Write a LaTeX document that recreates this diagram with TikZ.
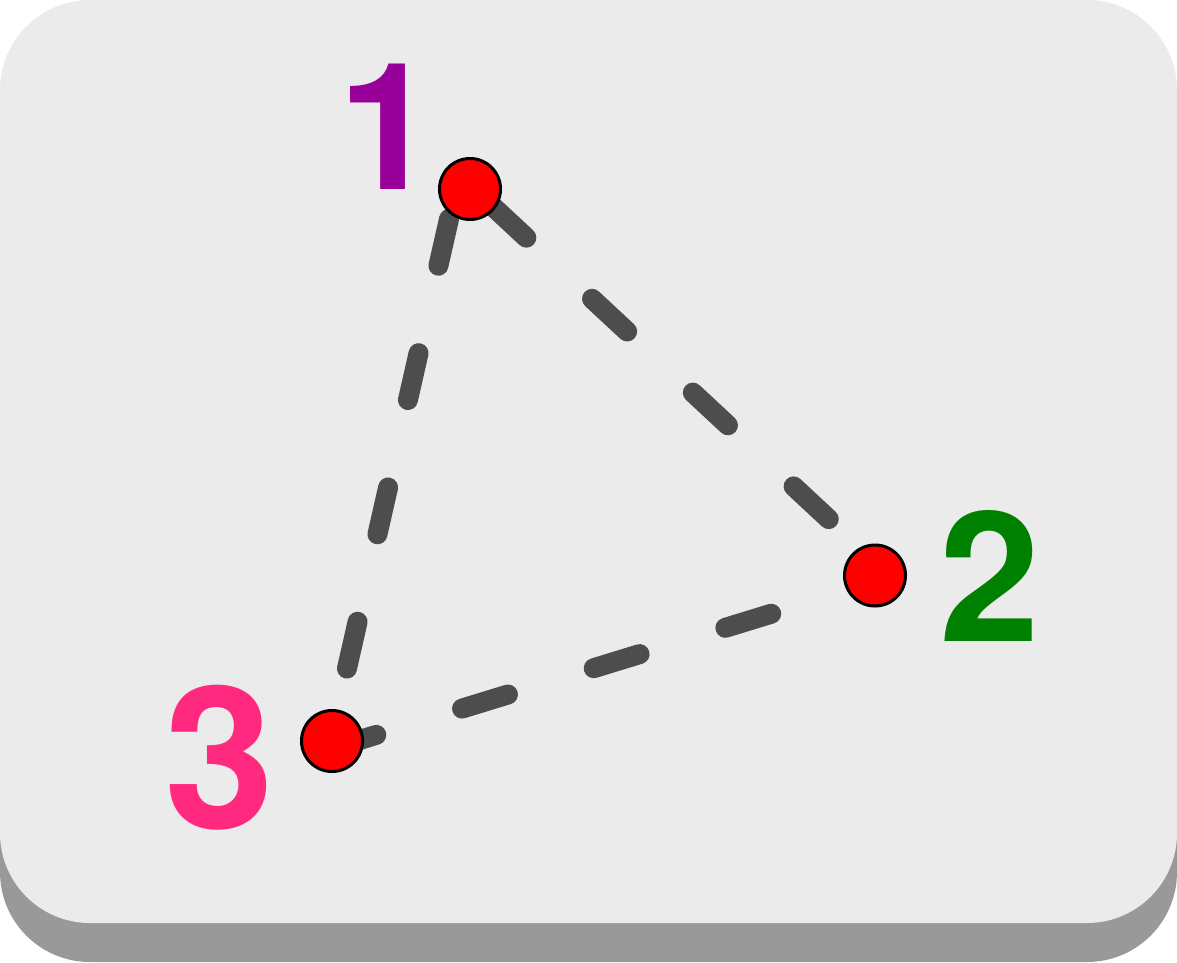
\documentclass[tikz,border=0pt]{standalone}
\usepackage{fontspec}
\setmainfont{TeX Gyre Heros}
\definecolor{facec}{HTML}{EBEBEB}
\definecolor{shadowc}{HTML}{999999}
\definecolor{linec}{HTML}{4D4D4D}
\definecolor{onec}{HTML}{990099}
\definecolor{twoc}{HTML}{008000}
\definecolor{threec}{HTML}{FF2A80}
\pgfdeclarelayer{back}
\pgfdeclarelayer{lines}
\pgfsetlayers{back,lines,main}
\begin{document}
\begin{tikzpicture}[x=1pt,y=-1pt,
  dot/.style={circle,draw=black,line width=3pt,fill=red,minimum size=61pt,inner sep=0pt},
  link/.style={linec,line width=20pt,line cap=round,dash pattern=on 48pt off 89.7pt},
  numlab/.style={inner sep=0pt,font=\bfseries\fontsize{#1}{#1}\selectfont}]
\useasboundingbox (0,0) rectangle (1177,962);
\begin{pgfonlayer}{back}
\fill[shadowc,rounded corners=90pt] (0,40) rectangle (1177,962);
\fill[facec,rounded corners=90pt] (0,0) rectangle (1177,923);
\end{pgfonlayer}
\node[dot] (n1) at (470,189) {};
\node[dot] (n2) at (875,575.5) {};
\node[dot] (n3) at (332,741) {};
\coordinate (v1) at ([shift={(-11,-14)}]n1.center);
\coordinate (v2) at ([shift={(16,1.5)}]n2.center);
\coordinate (v3) at ([shift={(-3.4,8.5)}]n3.center);
\begin{pgfonlayer}{lines}
\draw[link,dash phase=93.7pt] (v1) -- (v2);
\draw[link,dash phase=135.8pt] (v3) -- (v2);
\draw[link,dash phase=54.7pt] (v3) -- (v1);
\end{pgfonlayer}
\node[numlab=177,text=onec] (l1) at (388,126.5) {1};
\node[numlab=181,text=twoc] (l2) at (989.5,576.2) {2};
\node[numlab=198,text=threec] (l3) at (219.5,757.5) {3};
\end{tikzpicture}
\end{document}
